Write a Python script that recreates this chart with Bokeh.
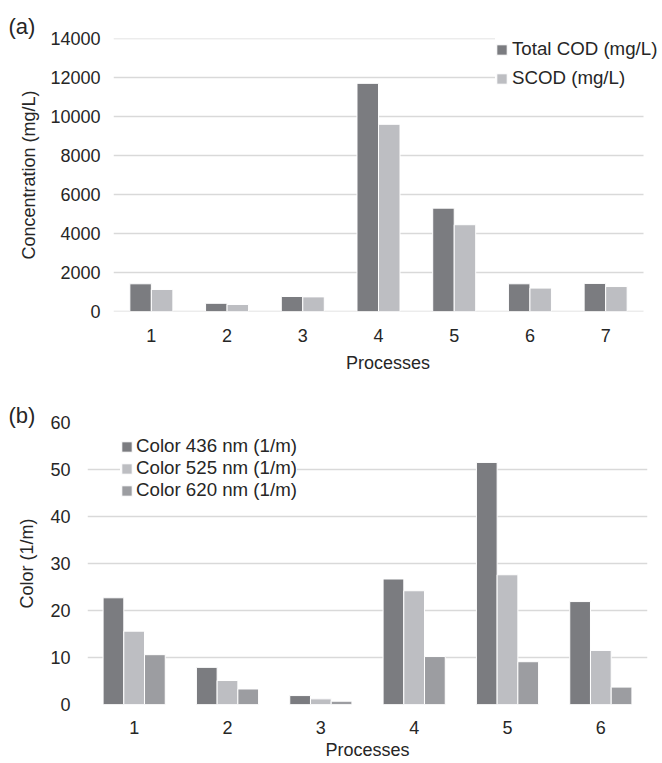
from bokeh.plotting import figure
from bokeh.models import ColumnDataSource, Range1d, FixedTicker, Legend, LegendItem, Title
from bokeh.transform import dodge
from bokeh.layouts import column
from bokeh.embed import file_html
from bokeh.resources import INLINE

# ---------------- data ----------------
processes_a = ["1", "2", "3", "4", "5", "6", "7"]
total_cod = [1420, 420, 770, 11700, 5300, 1420, 1440]
scod = [1130, 360, 750, 9600, 4450, 1200, 1280]
yticks_a = [0, 2000, 4000, 6000, 8000, 10000, 12000, 14000]

processes_b = ["1", "2", "3", "4", "5", "6"]
color_436 = [22.7, 7.9, 1.9, 26.7, 51.5, 21.9]
color_525 = [15.6, 5.1, 1.2, 24.2, 27.6, 11.5]
color_620 = [10.6, 3.3, 0.7, 10.2, 9.1, 3.7]
yticks_b = [0, 10, 20, 30, 40, 50, 60]

series_a = ["Total COD (mg/L)", "SCOD (mg/L)"]
series_b = ["Color 436 nm (1/m)", "Color 525 nm (1/m)", "Color 620 nm (1/m)"]

DARK = "#7b7c80"
LIGHT = "#bdbec2"
MID = "#9c9da1"
TXT = "#262626"
GRID = "#d9d9d9"
FONT = "Liberation Sans"
FS = "18px"
LFS = "18.7px"


def style(p, ticks):
    p.background_fill_color = "white"
    p.border_fill_color = "white"
    p.outline_line_color = None
    p.xgrid.grid_line_color = None
    p.ygrid.grid_line_color = GRID
    p.ygrid.grid_line_width = 1.5
    p.yaxis.ticker = FixedTicker(ticks=ticks)
    for ax in (p.xaxis[0], p.yaxis[0]):
        ax.axis_line_color = None
        ax.major_tick_line_color = None
        ax.minor_tick_line_color = None
        ax.major_tick_out = 0
        ax.major_tick_in = 0
        ax.minor_tick_out = 0
        ax.minor_tick_in = 0
        ax.major_label_text_font = FONT
        ax.major_label_text_font_size = FS
        ax.major_label_text_color = TXT
        ax.axis_label_text_font = FONT
        ax.axis_label_text_font_size = FS
        ax.axis_label_text_font_style = "normal"
        ax.axis_label_text_color = TXT
    p.xaxis.major_label_standoff = 17
    p.xaxis.axis_label = "Processes"


def panel_tag(p, txt, frame_left, standoff):
    p.add_layout(Title(text=txt, align="left", offset=8 - frame_left, standoff=standoff,
                       text_font=FONT, text_font_size="22px", text_font_style="normal",
                       text_color=TXT), "above")


# ---------------- chart (a) ----------------
# numeric category positions so the frame can run under the legend to the right edge
pos_a = list(range(1, len(processes_a) + 1))
src_a = ColumnDataSource(dict(x=pos_a, total=total_cod, scod=scod))
n_a = len(processes_a)
x_end_a = 0.5 + n_a * (662 - 113) / 530.0
pa = figure(x_range=Range1d(0.5, x_end_a), y_range=Range1d(0, 14000), width=662, height=380,
            output_backend="svg", toolbar_location=None, frame_align=False,
            min_border_left=113, min_border_right=0, min_border_top=38, min_border_bottom=69)
style(pa, yticks_a)
pa.ygrid.grid_line_color = None
# horizontal gridlines over the category area only
pa.segment(x0=[0.5] * len(yticks_a), x1=[0.5 + n_a] * len(yticks_a), y0=yticks_a, y1=yticks_a,
           line_color=GRID, line_width=1.5)
pa.xaxis.ticker = FixedTicker(ticks=pos_a)
pa.xaxis.major_label_overrides = {p_: lab for p_, lab in zip(pos_a, processes_a)}
pa.xaxis.axis_label_standoff = 8
wa = 0.284
ra1 = pa.vbar(x=dodge("x", -wa / 2), top="total", width=wa, source=src_a,
              fill_color=DARK, line_color="white", line_width=1)
ra2 = pa.vbar(x=dodge("x", wa / 2), top="scod", width=wa, source=src_a,
              fill_color=LIGHT, line_color="white", line_width=1)
pa.yaxis.axis_label = "Concentration (mg/L)"
pa.yaxis.major_label_standoff = 13
pa.yaxis.axis_label_standoff = 8

leg_a = Legend(items=[LegendItem(label=series_a[0], renderers=[ra1]),
                      LegendItem(label=series_a[1], renderers=[ra2])],
               location=(382, 222), orientation="vertical",
               glyph_width=13, glyph_height=13, label_standoff=4, spacing=7,
               label_height=20, padding=15, margin=0,
               label_text_font=FONT, label_text_font_size=LFS, label_text_color=TXT,
               border_line_color=None, background_fill_color="white", background_fill_alpha=1)
pa.add_layout(leg_a, "center")
panel_tag(pa, "(a)", 113, 0)

# ---------------- chart (b) ----------------
src_b = ColumnDataSource(dict(x=processes_b, c436=color_436, c525=color_525, c620=color_620))
pb = figure(x_range=processes_b, y_range=Range1d(0, 60), width=662, height=383,
            output_backend="svg", toolbar_location=None, frame_align=False,
            min_border_left=87, min_border_right=15, min_border_top=42, min_border_bottom=59)
style(pb, yticks_b)
pb.xaxis.major_label_standoff = 16
pb.xaxis.axis_label_standoff = 3
wb = 0.222
rb1 = pb.vbar(x=dodge("x", -wb, range=pb.x_range), top="c436", width=wb, source=src_b,
              fill_color=DARK, line_color="white", line_width=1)
rb2 = pb.vbar(x=dodge("x", 0, range=pb.x_range), top="c525", width=wb, source=src_b,
              fill_color=LIGHT, line_color="white", line_width=1)
rb3 = pb.vbar(x=dodge("x", wb, range=pb.x_range), top="c620", width=wb, source=src_b,
              fill_color=MID, line_color="white", line_width=1)
pb.yaxis.axis_label = "Color (1/m)"
pb.yaxis.major_label_standoff = 17
pb.yaxis.axis_label_standoff = 10

leg_b = Legend(items=[LegendItem(label=series_b[0], renderers=[rb1]),
                      LegendItem(label=series_b[1], renderers=[rb2]),
                      LegendItem(label=series_b[2], renderers=[rb3])],
               location=(33, 203), orientation="vertical",
               glyph_width=13, glyph_height=13, label_standoff=3, spacing=0,
               label_height=20, padding=12, margin=0,
               label_text_font=FONT, label_text_font_size=LFS, label_text_color=TXT,
               border_line_color=None, background_fill_color="white", background_fill_alpha=1)
pb.add_layout(leg_b, "center")
panel_tag(pb, "(b)", 87, -10)

layout = column(pa, pb, spacing=0)
open("out.html", "w").write(file_html(layout, INLINE))
